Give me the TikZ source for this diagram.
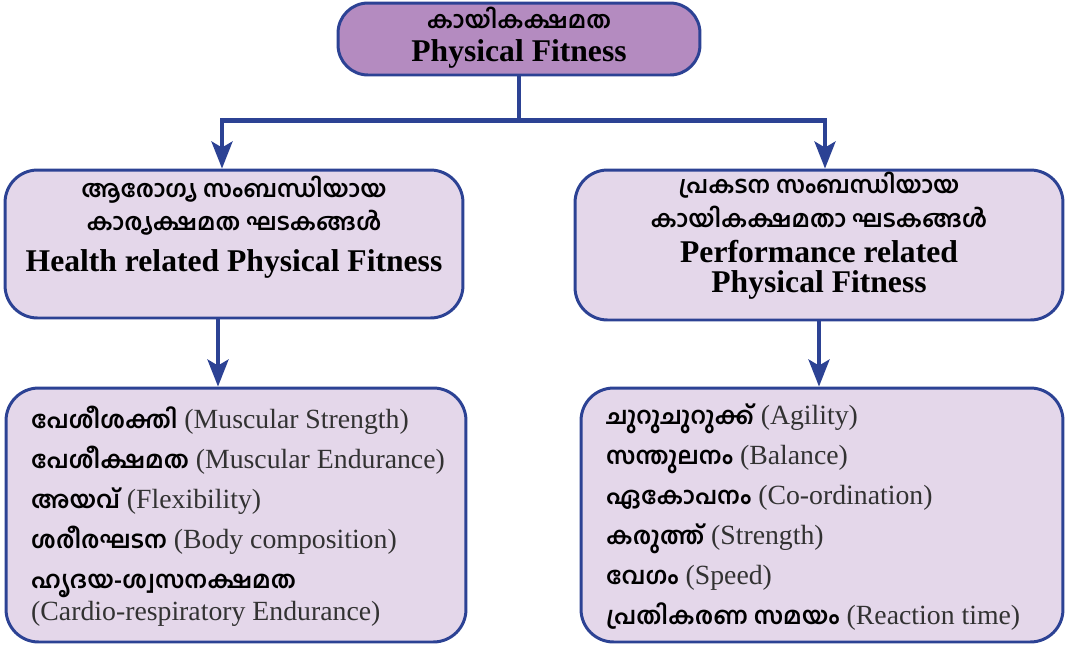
\documentclass[tikz,border=0pt]{standalone}
\usepackage{fontspec}
\setmainfont{Liberation Serif}
\newfontfamily\mlfont[Script=Malayalam]{Hind Kochi}
\usetikzlibrary{arrows.meta,positioning}
\definecolor{linkblue}{RGB}{44,66,148}
\definecolor{topfill}{RGB}{180,139,192}
\definecolor{boxfill}{RGB}{228,215,234}
\definecolor{engray}{RGB}{50,50,50}
\newcommand{\mlr}[1]{{\mlfont\fontsize{13.4}{18}\selectfont #1}}
\newcommand{\mlb}[1]{{\mlfont\bfseries\fontsize{13.6}{18}\selectfont #1}}
\newcommand{\en}[1]{{\color{engray}#1}}

\begin{document}
\begin{tikzpicture}[x=0.02cm, y=-0.02cm,
		>={Stealth[length=0.54cm, width=0.42cm, inset=0.12cm]}, %Pfeilspitzen
		box/.style={draw=linkblue, line width=1.7pt, fill=boxfill, rounded corners=0.65cm},
		link/.style={draw=linkblue, line width=2.3pt},
		head/.style={align=center, font=\bfseries\fontsize{18}{19}\selectfont},
		items/.style={align=left, anchor=west, font=\fontsize{15.8}{22.8}\selectfont}]
	% Bildbereich
	\useasboundingbox (0,0) rectangle (1067,647);
	% Kaesten
	\node[box, fill=topfill, rounded corners=0.6cm, minimum width=7.24cm, minimum height=1.44cm] (fit) at (519,39) {};
	\node[box, minimum width=9.16cm, minimum height=2.96cm] (health) at (234,244) {};
	\node[box, minimum width=9.76cm, minimum height=3cm] (perf) at (819,245) {};
	\node[box, minimum width=9.2cm, minimum height=5.08cm] (hlist) at (236,515) {};
	\node[box, minimum width=9.64cm, minimum height=5.08cm] (plist) at (822,515) {};
	% Beschriftung
	\node[head] (fittxt) at (519,38) {\mlr{കായികക്ഷമത}\\Physical Fitness};
	\node[head] (healthtxt) at (234,227) {\mlr{ആരോഗ്യ സംബന്ധിയായ}\\\mlr{കാര്യക്ഷമത ഘടകങ്ങൾ}\\[4pt]Health related Physical Fitness};
	\node[head] (perftxt) at (819,236) {\mlr{പ്രകടന സംബന്ധിയായ}\\\mlr{കായികക്ഷമതാ ഘടകങ്ങൾ}\\[1pt]Performance related\\[-1.5pt]Physical Fitness};
	\node[items] (hlisttxt) at (25,516) {\mlb{പേശീശക്തി} \en{(Muscular Strength)}\\
		\mlb{പേശീക്ഷമത} \en{(Muscular Endurance)}\\
		\mlb{അയവ്} \en{(Flexibility)}\\
		\mlb{ശരീരഘടന} \en{(Body composition)}\\
		\mlb{ഹൃദയ-ശ്വസനക്ഷമത}\\[-4.5pt]
		\en{(Cardio-respiratory Endurance)}};
	\node[items] (plisttxt) at (600,517) {\mlb{ചുറുചുറുക്ക്} \en{(Agility)}\\
		\mlb{സന്തുലനം} \en{(Balance)}\\
		\mlb{ഏകോപനം} \en{(Co-ordination)}\\
		\mlb{കരുത്ത്} \en{(Strength)}\\
		\mlb{വേഗം} \en{(Speed)}\\
		\mlb{പ്രതികരണ സമയം} \en{(Reaction time)}};
	% Verbindungen
	\coordinate (split) at ([yshift=-0.88cm]fit.south);
	\draw[link] (fit.south) -- (split);
	\draw[link,->] (split) -| ([xshift=-0.24cm]health.north);
	\draw[link,->] (split) -| ([xshift=0.12cm]perf.north);
	\draw[link,->] ([xshift=-0.32cm]health.south) -- ([xshift=-0.32cm]health.south |- hlist.north);
	\draw[link,->] (perf.south) -- (perf.south |- plist.north);
\end{tikzpicture}
\end{document}
